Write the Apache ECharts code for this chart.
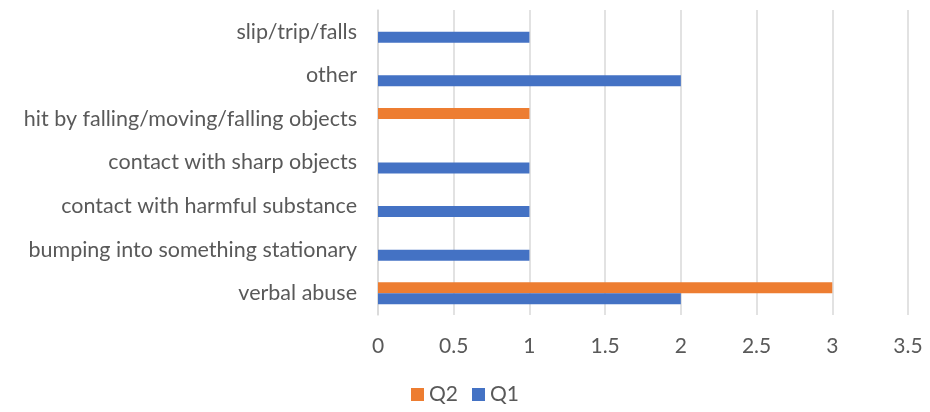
<!DOCTYPE html>
<html>
<head>
    <meta charset="utf-8">
    <title>ECharts</title>
    <script src="https://cdn.jsdelivr.net/npm/echarts@6/dist/echarts.min.js"></script>
</head>
<body style="margin:0">
<div id="main" style="width: 930px;height:412px;"></div>
<script type="text/javascript">
    // categories bottom -> top
    var categories = ['verbal abuse', 'bumping into something stationary', 'contact with harmful substance',
        'contact with sharp objects', 'hit by falling/moving/falling objects', 'other', 'slip/trip/falls'];
    var q1 = [2, 1, 1, 1, 0, 2, 1];
    var q2 = [3, 0, 0, 0, 1, 0, 0];
    var xTicks = [0, 0.5, 1, 1.5, 2, 2.5, 3, 3.5];

    var myChart = echarts.init(document.getElementById('main'));
    var txt = '#595959';
    var font = 'Lato';

    var option = {
        animation: false,
        grid: {left: 378, right: 22, top: 10, bottom: 97},
        legend: {
            data: ['Q2', 'Q1'],
            bottom: 2,
            icon: 'rect',
            itemWidth: 13,
            itemHeight: 13,
            itemGap: 14,
            textStyle: {color: txt, fontSize: 21, fontFamily: font}
        },
        xAxis: {
            type: 'value',
            min: xTicks[0],
            max: xTicks[xTicks.length - 1],
            interval: 0.5,
            axisLine: {show: false},
            axisTick: {show: false},
            splitLine: {lineStyle: {color: '#d9d9d9', width: 1.5}},
            axisLabel: {color: txt, fontSize: 21, fontFamily: font, margin: 21}
        },
        yAxis: {
            type: 'category',
            data: categories,
            axisLine: {show: true, lineStyle: {color: '#d9d9d9', width: 1.5}},
            axisTick: {show: false},
            axisLabel: {color: txt, fontSize: 21.5, fontFamily: font, margin: 21}
        },
        // Q2 listed first so it sits above Q1 inside each band
        series: [{
            name: 'Q2',
            type: 'bar',
            data: q2,
            barWidth: 11,
            barGap: '0%',
            itemStyle: {color: '#ed7d31'}
        }, {
            name: 'Q1',
            type: 'bar',
            data: q1,
            barWidth: 11,
            barGap: '0%',
            itemStyle: {color: '#4472c4'}
        }]
    };

    myChart.setOption(option);
</script>
</body>
</html>
